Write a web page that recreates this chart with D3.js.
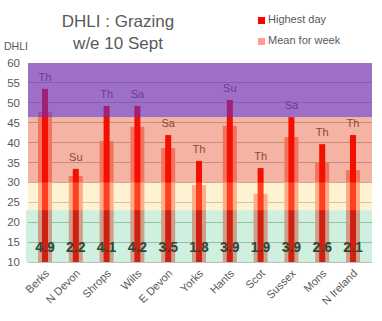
<!DOCTYPE html>
<html><head><meta charset="utf-8">
<script src="https://cdn.jsdelivr.net/npm/d3@7"></script>
<style>body{margin:0;background:#fff}svg{display:block;font-family:"Liberation Sans",Arial,sans-serif}</style>
</head><body><svg id="c" width="382" height="321"></svg>
<script>
const categories=["Berks","N Devon","Shrops","Wilts","E Devon","Yorks","Hants","Scot","Sussex","Mons","N Ireland"];
const highestDay=[53.5,33.4,49.2,49.2,41.9,35.4,50.7,33.6,46.4,39.6,41.9];
const meanWeek=[47.7,31.6,40.4,44.0,38.6,29.3,44.2,27.1,41.4,34.9,33.1];
const peakDay=["Th","Su","Th","Sa","Sa","Th","Su","Th","Sa","Th","Th"];
const bottomLabels=["4.9","2.2","4.1","4.2","3.5","1.8","3.9","1.9","3.9","2.6","2.1"];
const yTicks=[10,15,20,25,30,35,40,45,50,55,60];
const bandLimits=[[10,23],[23,30],[30,46.4],[46.4,60]];
const bandColors=["rgba(0,168,84,0.19)","rgba(255,213,107,0.30)","rgba(224,45,0,0.36)","rgba(114,47,173,0.69)"];

const svg=d3.select("#c");
const y=d3.scaleLinear().domain([10,60]).range([262,63]);
const x=d3.scaleBand().domain(categories).range([29.6,368.4]);
const cx=d=>x(d)+x.bandwidth()/2;
const gray="#595959";

// gridlines
svg.append("g").selectAll("line").data(yTicks.filter(t=>t<60)).join("line")
  .attr("x1",28).attr("x2",372).attr("y1",d=>y(d)).attr("y2",d=>y(d))
  .attr("stroke","#bfbfbf").attr("stroke-width",1).attr("shape-rendering","crispEdges");

// mean bars
svg.append("g").selectAll("rect").data(categories).join("rect")
  .attr("x",(d)=>cx(d)-7).attr("width",14)
  .attr("y",(d,i)=>y(meanWeek[i])).attr("height",(d,i)=>y(10)-y(meanWeek[i]))
  .attr("fill","#ff9c96");
// highest bars
svg.append("g").selectAll("rect").data(categories).join("rect")
  .attr("x",(d)=>cx(d)-3).attr("width",6)
  .attr("y",(d,i)=>y(highestDay[i])).attr("height",(d,i)=>y(10)-y(highestDay[i]))
  .attr("fill","#ff0000");

// day labels
svg.append("g").selectAll("text").data(categories).join("text")
  .attr("x",d=>cx(d)).attr("y",(d,i)=>y(highestDay[i])-8)
  .attr("text-anchor","middle").attr("font-size",11).attr("fill",gray)
  .text((d,i)=>peakDay[i]);

// bottom labels
svg.append("g").selectAll("text").data(categories).join("text")
  .attr("x",d=>cx(d)).attr("y",252)
  .attr("text-anchor","middle").attr("font-size",14).attr("font-weight","bold").attr("fill","#333")
  .text((d,i)=>bottomLabels[i]);

// bands overlay
svg.append("g").selectAll("rect").data(bandLimits).join("rect")
  .attr("x",(d,i)=>i===0?26:28).attr("width",(d,i)=>i===0?346:344)
  .attr("y",d=>y(d[1])).attr("height",d=>y(d[0])-y(d[1]))
  .attr("fill",(d,i)=>bandColors[i]);

// y axis labels
svg.append("g").selectAll("text").data(yTicks).join("text")
  .attr("x",20).attr("y",d=>y(d)).attr("dy","0.35em")
  .attr("text-anchor","end").attr("font-size",11.5).attr("fill",gray).text(d=>d);
svg.append("text").attr("x",4).attr("y",50).attr("font-size",10.5).attr("fill",gray).text("DHLI");

// x labels
svg.append("g").selectAll("text").data(categories).join("text")
  .attr("transform",d=>`translate(${cx(d)+5},${274}) rotate(-45)`)
  .attr("text-anchor","end").attr("font-size",11).attr("fill",gray).text(d=>d);

// title
svg.append("text").attr("x",118).attr("y",27).attr("text-anchor","middle").attr("font-size",17).attr("fill",gray).text("DHLI : Grazing");
svg.append("text").attr("x",118).attr("y",49).attr("text-anchor","middle").attr("font-size",17).attr("fill",gray).text("w/e 10 Sept");

// legend
const legend=[["Highest day","#ff0000",23],["Mean for week","#ff9c96",44]];
const lg=svg.append("g").selectAll("g").data(legend).join("g");
lg.append("rect").attr("x",258).attr("y",d=>d[2]-6).attr("width",7).attr("height",7).attr("fill",d=>d[1]);
lg.append("text").attr("x",268).attr("y",d=>d[2]).attr("font-size",11).attr("fill",gray).text(d=>d[0]);
</script></body></html>
